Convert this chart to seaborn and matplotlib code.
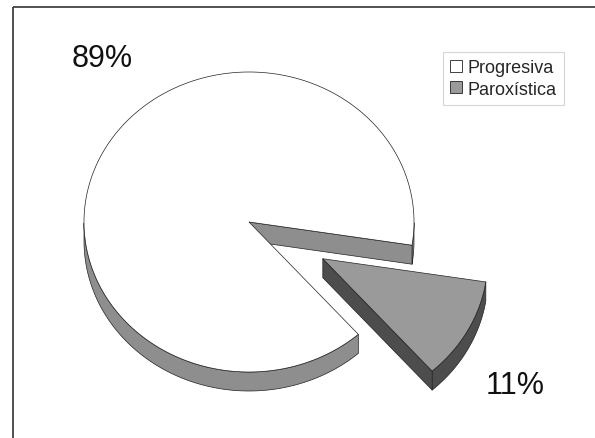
import numpy as np
import matplotlib
matplotlib.use("Agg")
import matplotlib.pyplot as plt
from matplotlib.patches import Polygon, Patch
import seaborn as sns

# ---- data ----
labels = ["Progresiva", "Paroxística"]
values = [89, 11]
pct_labels = ["89%", "11%"]
explode = [0.0, 0.51]

sns.set_style("white")
plt.rcParams['font.family'] = ['Liberation Sans', 'DejaVu Sans']

top_colors = ["#ffffff", "#9a9a9a"]
side_colors = ["#8e8e8e", "#4d4d4d"]

fig = plt.figure(figsize=(5.95, 4.39), dpi=100)
ax = fig.add_axes([0, 0, 1, 1])
ax.set_xlim(0, 595)
ax.set_ylim(439, 0)
ax.axis('off')

# frame of the chart area (left and top)
ax.plot([12.5, 12.5], [439, 7.5], color="#333333", lw=1.2, solid_capstyle='butt')
ax.plot([12.5, 595], [7.5, 7.5], color="#333333", lw=1.2, solid_capstyle='butt')

cx, cy, rx, ry, depth = 249, 223, 165, 150, 19
start = -8.9  # parametric angle where the first slice begins (counterclockwise)
total = float(sum(values))


def pts(t, dx, dy, z=0.0):
    t = np.radians(t)
    return np.column_stack([cx + dx + rx * np.cos(t), cy + dy - ry * np.sin(t) + z])


ekw = dict(edgecolor="#222222", linewidth=0.5, joinstyle='round')

a = start
for i, v in enumerate(values):
    span = 360.0 * v / total
    a0, a1 = a, a + span
    a = a1
    mid = np.radians((a0 + a1) / 2)
    dx = explode[i] * rx * np.cos(mid)
    dy = -explode[i] * ry * np.sin(mid)

    # outer side: visible where sin(t) <= 0
    ts = np.linspace(a0, a1, 600)
    vis = np.sin(np.radians(ts)) <= 1e-9
    runs = []
    cur = []
    for t, m in zip(ts, vis):
        if m:
            cur.append(t)
        elif cur:
            runs.append(cur); cur = []
    if cur:
        runs.append(cur)
    for r in runs:
        r = np.array(r)
        topc = pts(r, dx, dy)
        botc = pts(r[::-1], dx, dy, depth)
        ax.add_patch(Polygon(np.vstack([topc, botc]), closed=True,
                             facecolor=side_colors[i], **ekw))

    # cut faces
    c_top = np.array([cx + dx, cy + dy])
    c_bot = c_top + np.array([0, depth])
    if np.cos(np.radians(a0)) > 0:
        e = pts(np.array([a0]), dx, dy)[0]
        ax.add_patch(Polygon([c_top, e, e + [0, depth], c_bot], closed=True,
                             facecolor=side_colors[i], **ekw))
    if np.cos(np.radians(a1)) < 0:
        e = pts(np.array([a1]), dx, dy)[0]
        ax.add_patch(Polygon([c_top, e, e + [0, depth], c_bot], closed=True,
                             facecolor=side_colors[i], **ekw))

    # top face
    arc = pts(np.linspace(a0, a1, 600), dx, dy)
    ax.add_patch(Polygon(np.vstack([c_top, arc]), closed=True,
                         facecolor=top_colors[i], **ekw))

# percentage labels
ax.text(102, 59, pct_labels[0], fontsize=22, ha='center', va='center', color='#111111')
ax.text(515, 386, pct_labels[1], fontsize=22, ha='center', va='center', color='#111111')

handles = [Patch(facecolor=top_colors[i], edgecolor="#222222", linewidth=0.6, label=labels[i])
           for i in range(len(labels))]
leg = ax.legend(handles=handles, loc='upper left', bbox_to_anchor=(443 / 595, 1 - 53 / 439),
                fontsize=13, frameon=True, fancybox=False, handlelength=0.65,
                handleheight=0.65, handletextpad=0.3, labelspacing=0.25,
                borderpad=0.4, borderaxespad=0)
leg.get_frame().set_edgecolor("#cccccc")
leg.get_frame().set_linewidth(0.8)

fig.savefig("out.png", dpi=100)
